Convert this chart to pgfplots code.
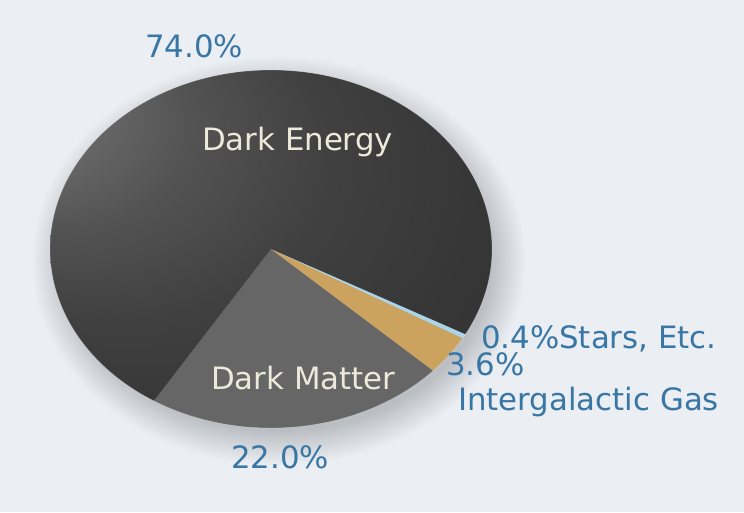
\documentclass[border=0pt]{standalone}
\usepackage{pgfplots}
\pgfplotsset{compat=1.18}
\usepackage{fontspec}
\setmainfont{DejaVu Sans}

\definecolor{bgcol}{RGB}{235,238,242}
\definecolor{labelblue}{RGB}{56,118,166}
\definecolor{innertext}{RGB}{236,234,218}
\definecolor{dmgray}{RGB}{102,102,102}
\definecolor{gascol}{RGB}{204,163,94}
\definecolor{starcol}{RGB}{170,212,234}
\definecolor{deA}{RGB}{142,142,142}
\definecolor{deB}{RGB}{108,108,108}
\definecolor{deC}{RGB}{82,82,82}
\definecolor{deD}{RGB}{64,64,64}
\definecolor{deE}{RGB}{54,54,54}
\definecolor{deF}{RGB}{48,48,48}

% glossy fill for the large slice, brightest towards the upper left
\pgfdeclareradialshading{deshade}{\pgfpoint{-36bp}{24bp}}{%
  color(0bp)=(deA); color(8bp)=(deB); color(16bp)=(deC);
  color(25bp)=(deD); color(35bp)=(deE); color(50bp)=(deF)}

% slice values (percent)
\def\vDM{22.0}
\def\vGas{3.6}
\def\vStars{0.4}
\def\vDE{74.0}

% pie geometry: centre and the two radii of the ellipse
\def\cx{271}
\def\cy{249}
\def\rx{221}
\def\ry{179}
\def\startangle{238}

\pgfmathsetmacro\aA{\startangle}
\pgfmathsetmacro\aB{\aA+3.6*\vDM}
\pgfmathsetmacro\aC{\aB+3.6*\vGas}
\pgfmathsetmacro\aD{\aC+3.6*\vStars}
\pgfmathsetmacro\aE{\aD+3.6*\vDE}

\tikzset{lbl/.style={anchor=base west, inner sep=0, font=\fontsize{30.8}{36}\selectfont}}

\begin{document}
\begin{tikzpicture}
\begin{axis}[
  scale only axis, width=744pt, height=512pt,
  xmin=0, xmax=744, ymin=0, ymax=512, y dir=reverse,
  hide axis, clip=false,
]
% background
\fill[bgcol] (axis cs:0,0) rectangle (axis cs:744,512);

% soft shadow below the pie
\pgfplotsinvokeforeach{1,...,16}{
  \fill[black, opacity=0.010]
    (axis cs:\cx+8,\cy+12) ellipse [x radius=\rx-10+#1*2.2, y radius=\ry-10+#1*2.2];
}

% slices
\addplot[draw=none, fill=dmgray, domain=\aA:\aB, samples=80, variable=\t]
  ({\cx+\rx*cos(\t)}, {\cy-\ry*sin(\t)}) -- (axis cs:\cx,\cy) -- cycle;
\addplot[draw=none, fill=gascol, domain=\aB:\aC, samples=20, variable=\t]
  ({\cx+\rx*cos(\t)}, {\cy-\ry*sin(\t)}) -- (axis cs:\cx,\cy) -- cycle;
\addplot[draw=none, fill=starcol, domain=\aC:\aD, samples=5, variable=\t]
  ({\cx+\rx*cos(\t)}, {\cy-\ry*sin(\t)}) -- (axis cs:\cx,\cy) -- cycle;
\addplot[draw=none, shade, shading=deshade, domain=\aD:\aE, samples=200, variable=\t]
  ({\cx+\rx*cos(\t)}, {\cy-\ry*sin(\t)}) -- (axis cs:\cx,\cy) -- cycle;

% faint highlight along the rim
\draw[white, opacity=0.2, line width=0.8pt]
  (axis cs:\cx,\cy) ellipse [x radius=\rx, y radius=\ry];

% labels inside the slices
\node[lbl, text=innertext] at (axis cs:202,150) {Dark Energy};
\node[lbl, text=innertext] at (axis cs:211,389) {Dark Matter};

% percentage labels
\node[lbl, text=labelblue] at (axis cs:145,57) {74.0\%};
\node[lbl, text=labelblue] at (axis cs:231,468) {22.0\%};
\node[lbl, text=labelblue] at (axis cs:481,348) {0.4\%Stars, Etc.};
\node[lbl, text=labelblue] at (axis cs:446,375) {3.6\%};
\node[lbl, text=labelblue] at (axis cs:458,410) {Intergalactic Gas};
\end{axis}
\end{tikzpicture}
\end{document}
